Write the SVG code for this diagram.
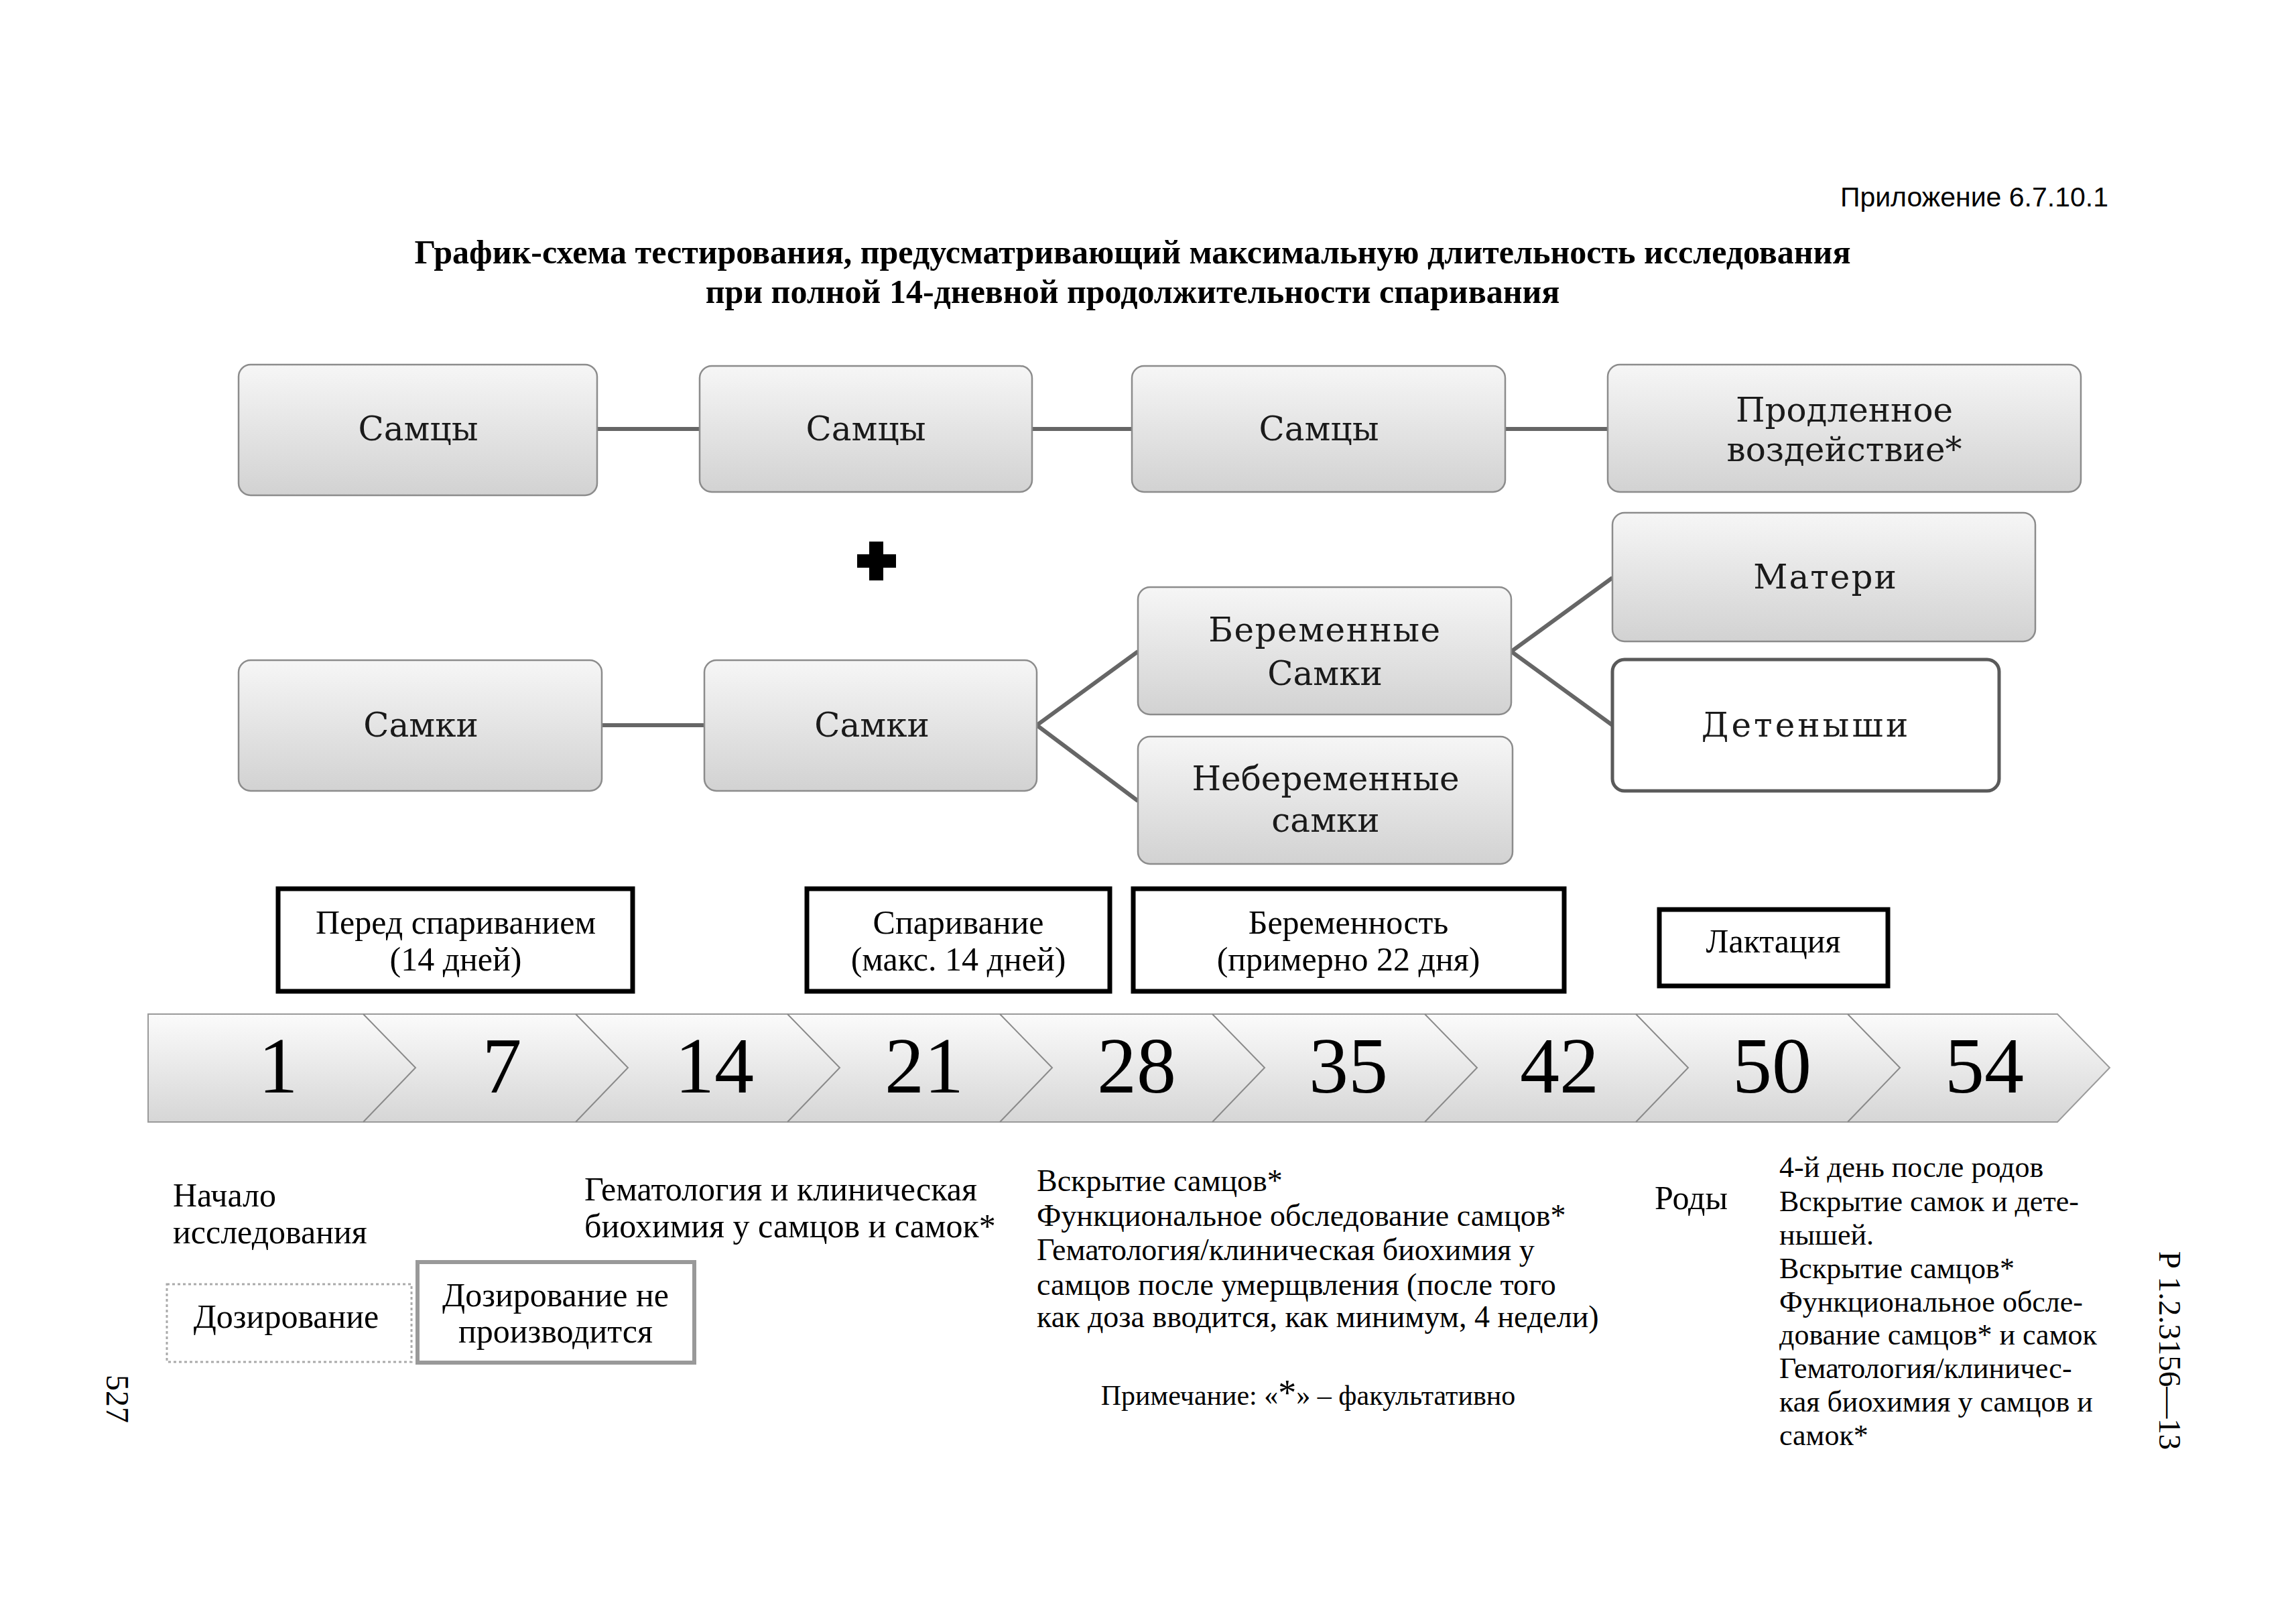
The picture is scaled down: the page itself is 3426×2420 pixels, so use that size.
<svg xmlns="http://www.w3.org/2000/svg" width="3426" height="2420" viewBox="0 0 3426 2420">
<defs>
<linearGradient id="gNode" x1="0" y1="0" x2="0" y2="1">
<stop offset="0" stop-color="#f6f6f6"/>
<stop offset="1" stop-color="#d2d2d2"/>
</linearGradient>
<linearGradient id="gArrow" x1="0" y1="0" x2="0" y2="1">
<stop offset="0" stop-color="#fbfbfb"/>
<stop offset="1" stop-color="#d6d6d6"/>
</linearGradient>
<style>
.node{fill:url(#gNode);stroke:#8c8c8c;stroke-width:2.5}
.nodew{fill:#ffffff;stroke:#5a5a5a;stroke-width:5}
.nt{font-family:"DejaVu Serif","Liberation Serif",serif;font-size:50px;fill:#1a1a1a;text-anchor:middle}
.conn{stroke:#666;stroke-width:6;fill:none}
.phase{fill:#fff;stroke:#000;stroke-width:7}
.pt{font-family:"Liberation Serif",serif;font-size:50px;fill:#000;text-anchor:middle}
.num{font-family:"Liberation Serif",serif;font-size:118px;fill:#000;text-anchor:middle}
.sep{stroke:#8a8a8a;stroke-width:2;fill:none}
.bt{font-family:"Liberation Serif",serif;font-size:50px;fill:#000}
.bs{font-family:"Liberation Serif",serif;font-size:46px;fill:#000}
.br{font-family:"Liberation Serif",serif;font-size:44px;fill:#000}
</style>
</defs>
<rect width="3426" height="2420" fill="#fff"/>
<text x="3146" y="308" font-family="Liberation Sans,Arial,sans-serif" font-size="41" text-anchor="end">Приложение 6.7.10.1</text>
<g font-family="Liberation Serif,serif" font-size="50" font-weight="bold" text-anchor="middle">
<text x="1690" y="393">График-схема тестирования, предусматривающий максимальную длительность исследования</text>
<text x="1690" y="452">при полной 14-дневной продолжительности спаривания</text>
</g>
<g id="connectors">
<line class="conn" x1="891" y1="640" x2="1044" y2="640"/>
<line class="conn" x1="1540" y1="640" x2="1689" y2="640"/>
<line class="conn" x1="2246" y1="640" x2="2399" y2="640"/>
<line class="conn" x1="898" y1="1082" x2="1051" y2="1082"/>
<polyline class="conn" points="1698,972 1547,1082 1698,1195"/>
<polyline class="conn" points="2406,862 2255,972 2406,1082"/>
</g>
<g id="n-samcy1"><rect class="node" x="356" y="544" width="535" height="195" rx="18"/><text class="nt" x="624" y="657">Самцы</text></g>
<g id="n-samcy2"><rect class="node" x="1044" y="546" width="496" height="188" rx="18"/><text class="nt" x="1292" y="657">Самцы</text></g>
<g id="n-samcy3"><rect class="node" x="1689" y="546" width="557" height="188" rx="18"/><text class="nt" x="1968" y="657">Самцы</text></g>
<g id="n-prodl"><rect class="node" x="2399" y="544" width="706" height="190" rx="18"/><text class="nt" x="2752" y="629">Продленное</text><text class="nt" x="2752" y="688">воздействие*</text></g>
<g id="plus"><rect x="1297" y="808" width="21" height="58" fill="#000"/><rect x="1279" y="827" width="58" height="20" fill="#000"/></g>
<g id="n-samki1"><rect class="node" x="356" y="985" width="542" height="195" rx="18"/><text class="nt" x="628" y="1099">Самки</text></g>
<g id="n-samki2"><rect class="node" x="1051" y="985" width="496" height="195" rx="18"/><text class="nt" x="1301" y="1099">Самки</text></g>
<g id="n-berem"><rect class="node" x="1698" y="876" width="557" height="190" rx="18"/><text class="nt" x="1977" y="957" letter-spacing="1.5">Беременные</text><text class="nt" x="1977" y="1022">Самки</text></g>
<g id="n-neberem"><rect class="node" x="1698" y="1099" width="559" height="190" rx="18"/><text class="nt" x="1978" y="1179">Небеременные</text><text class="nt" x="1978" y="1241">самки</text></g>
<g id="n-materi"><rect class="node" x="2406" y="765" width="631" height="192" rx="18"/><text class="nt" x="2724" y="878" letter-spacing="2">Матери</text></g>
<g id="n-deten"><rect class="nodew" x="2406" y="984" width="577" height="196" rx="18"/><text class="nt" x="2695" y="1099" letter-spacing="4">Детеныши</text></g>
<g id="p-pered"><rect class="phase" x="415" y="1326" width="529" height="153"/><text class="pt" x="680" y="1393">Перед спариванием</text><text class="pt" x="680" y="1448">(14 дней)</text></g>
<g id="p-spar"><rect class="phase" x="1204" y="1326" width="452" height="153"/><text class="pt" x="1430" y="1393">Спаривание</text><text class="pt" x="1430" y="1448">(макс. 14 дней)</text></g>
<g id="p-berem"><rect class="phase" x="1691" y="1326" width="643" height="153"/><text class="pt" x="2012" y="1393">Беременность</text><text class="pt" x="2012" y="1448">(примерно 22 дня)</text></g>
<g id="p-lakt"><rect class="phase" x="2476" y="1357" width="341" height="114"/><text class="pt" x="2646" y="1421">Лактация</text></g>
<g id="timeline">
<path d="M221,1513 L3070,1513 L3148,1593 L3070,1674 L221,1674 Z" fill="url(#gArrow)" stroke="#9a9a9a" stroke-width="2"/>
<polyline class="sep" points="542,1513 620,1593 542,1674"/>
<polyline class="sep" points="859,1513 937,1593 859,1674"/>
<polyline class="sep" points="1175,1513 1253,1593 1175,1674"/>
<polyline class="sep" points="1492,1513 1570,1593 1492,1674"/>
<polyline class="sep" points="1809,1513 1887,1593 1809,1674"/>
<polyline class="sep" points="2126,1513 2204,1593 2126,1674"/>
<polyline class="sep" points="2441,1513 2519,1593 2441,1674"/>
<polyline class="sep" points="2757,1513 2835,1593 2757,1674"/>
<text class="num" x="415" y="1630">1</text>
<text class="num" x="749" y="1630">7</text>
<text class="num" x="1066" y="1630">14</text>
<text class="num" x="1379" y="1630">21</text>
<text class="num" x="1696" y="1630">28</text>
<text class="num" x="2012" y="1630">35</text>
<text class="num" x="2327" y="1630">42</text>
<text class="num" x="2644" y="1630">50</text>
<text class="num" x="2961" y="1630">54</text>
</g>
<g id="notes">
<text class="bt" x="258" y="1800">Начало</text>
<text class="bt" x="258" y="1855">исследования</text>
<text class="bt" x="872" y="1791">Гематология и клиническая</text>
<text class="bt" x="872" y="1846">биохимия у самцов и самок*</text>
<text class="bs" x="1547" y="1777">Вскрытие самцов*</text>
<text class="bs" x="1547" y="1829">Функциональное обследование самцов*</text>
<text class="bs" x="1547" y="1880">Гематология/клиническая биохимия у</text>
<text class="bs" x="1547" y="1932">самцов после умерщвления (после того</text>
<text class="bs" x="1547" y="1980">как доза вводится, как минимум, 4 недели)</text>
<text class="bt" x="2469" y="1804">Роды</text>
<text class="br" x="2655" y="1756">4-й день после родов</text>
<text class="br" x="2655" y="1807">Вскрытие самок и дете-</text>
<text class="br" x="2655" y="1857">нышей.</text>
<text class="br" x="2655" y="1907">Вскрытие самцов*</text>
<text class="br" x="2655" y="1957">Функциональное обсле-</text>
<text class="br" x="2655" y="2006">дование самцов* и самок</text>
<text class="br" x="2655" y="2056">Гематология/клиничес-</text>
<text class="br" x="2655" y="2106">кая биохимия у самцов и</text>
<text class="br" x="2655" y="2156">самок*</text>
<text x="1952" y="2096" font-family="Liberation Serif,serif" font-size="42" text-anchor="middle">Примечание: «<tspan font-size="54">*</tspan>» – факультативно</text>
</g>
<g id="dosing">
<rect x="249" y="1916" width="365" height="116" fill="#fff" stroke="#aaa" stroke-width="3" stroke-dasharray="4 4"/>
<text class="bt" x="427" y="1981" text-anchor="middle">Дозирование</text>
</g>
<g id="nodosing">
<rect x="623" y="1883" width="413" height="150" fill="#fff" stroke="#999" stroke-width="6"/>
<text class="bt" x="829" y="1949" text-anchor="middle">Дозирование не</text>
<text class="bt" x="829" y="2003" text-anchor="middle">производится</text>
</g>
<text transform="translate(159,2087) rotate(90)" font-family="Liberation Serif,serif" font-size="48" text-anchor="middle">527</text>
<text transform="translate(3222,2015) rotate(90)" font-family="Liberation Serif,serif" font-size="47" text-anchor="middle">Р 1.2.3156—13</text>
</svg>
